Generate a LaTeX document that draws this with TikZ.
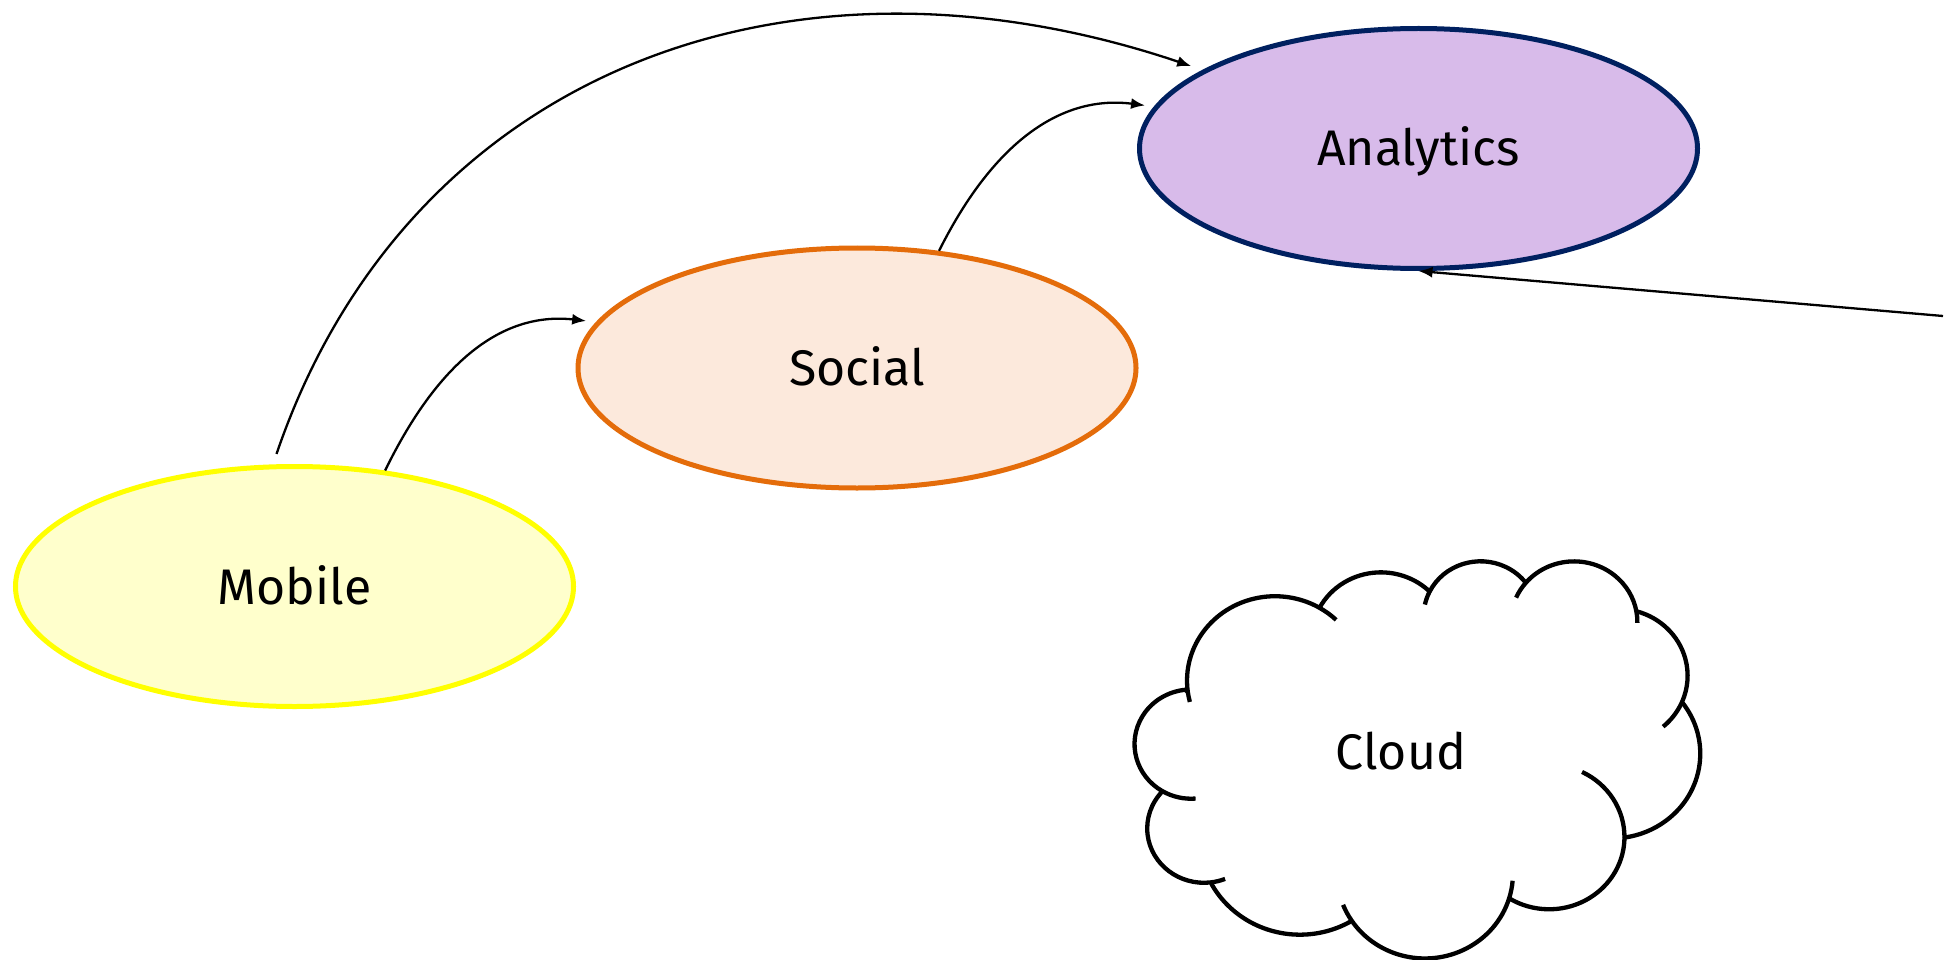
\documentclass[tikz,border=0pt]{standalone}
\usepackage{fontspec}
\setmainfont{Fira Sans}
\usetikzlibrary{shapes.geometric,arrows.meta}
\definecolor{anFill}{HTML}{D8BBEA}
\definecolor{anLine}{HTML}{002060}
\definecolor{soFill}{HTML}{FCE9DC}
\definecolor{soLine}{HTML}{E46C0A}
\definecolor{moFill}{HTML}{FFFFCC}
\definecolor{moLine}{HTML}{FFFF00}
% DrawingML-style arcTo (geometric angles), positive / negative sweep
\newcommand\ooarcpos[4]{arc[x radius=#1, y radius=#2, start angle={atan2((#1)*sin(#3),(#2)*cos(#3))}, delta angle={mod(atan2((#1)*sin((#3)+(#4)),(#2)*cos((#3)+(#4)))-atan2((#1)*sin(#3),(#2)*cos(#3))+720,360)}]}
\newcommand\ooarcneg[4]{arc[x radius=#1, y radius=#2, start angle={atan2((#1)*sin(#3),(#2)*cos(#3))}, delta angle={-mod(atan2((#1)*sin(#3),(#2)*cos(#3))-atan2((#1)*sin((#3)+(#4)),(#2)*cos((#3)+(#4)))+720,360)}]}
\tikzset{
  blob/.style={ellipse, minimum width=558pt, minimum height=240pt, line width=5pt, inner sep=0pt,
    font=\fontsize{50}{60}\selectfont, text height=35pt, text depth=0pt},
  lbl/.style={inner sep=0pt, font=\fontsize{50}{60}\selectfont, text height=35pt, text depth=0pt},
  conn/.style={line width=2.3pt, -{Latex[length=14pt,width=11pt]}},
  cloudline/.style={line width=4.3pt, line join=round},
}
\begin{document}
\begin{tikzpicture}[x=1pt,y=-1pt]
\path[use as bounding box, fill=white] (0,0) rectangle (1957,960);

\node[blob, draw=anLine, fill=anFill] (an) at (1418.5,148.5) {Analytics};
\node[blob, draw=soLine, fill=soFill] (so) at (857,368) {Social};
\node[blob, draw=moLine, fill=moFill] (mo) at (294.5,586.5) {Mobile};

% cloud shape
\begin{scope}[shift={(1137,560)}, x=1.303241pt, y=-0.918981pt]
\draw[cloudline, fill=white] (39.00,143.70) coordinate (j0)
  \ooarcpos{67.53}{91.90}{-190.4875}{123.7805} coordinate (j1)
  \ooarcpos{53.33}{72.67}{-144.1024}{89.9452} coordinate (j2)
  \ooarcpos{43.65}{59.45}{-145.8079}{99.7230} coordinate (j3)
  \ooarcpos{48.57}{65.95}{-130.9861}{117.2417} coordinate (j4)
  \ooarcpos{53.33}{72.73}{-78.7089}{109.0269} coordinate (j5)
  \ooarcpos{67.75}{92.20}{-46.2673}{130.2690} coordinate (j6)
  \ooarcpos{57.85}{78.67}{0.6250}{114.0333} coordinate (j7)
  \ooarcpos{67.52}{92.15}{22.4516}{115.1726} coordinate (j8)
  \ooarcpos{77.20}{105.43}{66.2426}{78.4366} coordinate (j9)
  \ooarcpos{43.60}{59.18}{-274.9421}{146.7356} coordinate (j10)
  \ooarcpos{43.45}{59.45}{-246.8285}{152.5189} -- cycle;
\draw[cloudline] (j0) \ooarcneg{67.53}{91.90}{-190.4875}{-9};
\draw[cloudline] (j1) \ooarcpos{67.53}{91.90}{-66.707}{12};
\draw[cloudline] (j2) \ooarcneg{43.65}{59.45}{-145.8079}{-18};
\draw[cloudline] (j3) \ooarcneg{48.57}{65.95}{-130.9861}{-18.2};
\draw[cloudline] (j4) \ooarcpos{48.57}{65.95}{-13.7444}{14.86};
\draw[cloudline] (j5) \ooarcpos{53.33}{72.73}{30.318}{27.75};
\draw[cloudline] (j6) \ooarcneg{57.85}{78.67}{0.625}{-70.92};
\draw[cloudline] (j7) \ooarcneg{67.52}{92.15}{22.4516}{-16};
\draw[cloudline] (j8) \ooarcpos{67.52}{92.15}{137.6242}{14.08};
\draw[cloudline] (j9) \ooarcneg{43.60}{59.18}{-274.9421}{-11.45};
\draw[cloudline] (j10) \ooarcneg{43.45}{59.45}{-246.8285}{-26.43};
\end{scope}
\node[lbl] (cl) at (1401,752) {Cloud};

% connectors
\draw[conn, shorten <=11pt, shorten >=12pt] (mo.100.6) .. controls (404,80) and (778,-73) .. (an.160);
\draw[conn, shorten >=10pt] (mo.52) .. controls (441,356) and (506,312) .. (so.170);
\draw[conn, shorten >=9pt] (so.55) .. controls (996,137) and (1065,95) .. (an.171);
\coordinate (rt) at (1943,316);
\draw[conn] (rt) -- (an.south);
\end{tikzpicture}
\end{document}
